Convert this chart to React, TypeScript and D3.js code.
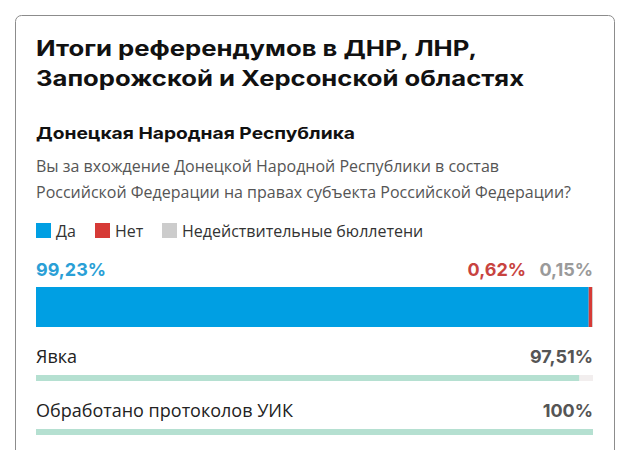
import React from "react";
import * as d3 from "d3";

const titleLines = ["Итоги референдумов в ДНР, ЛНР,", "Запорожской и Херсонской областях"];
const titleWidths = [441, 488];
const regionName = "Донецкая Народная Республика";
const questionLines = [
  "Вы за вхождение Донецкой Народной Республики в состав",
  "Российской Федерации на правах субъекта Российской Федерации?",
];
const categories = ["Да", "Нет", "Недействительные бюллетени"];
const voteValues = [99.23, 0.62, 0.15];
const voteColors = ["#009fe3", "#d63a36", "#cccccc"];
const voteLabelColors = ["#2a9fd6", "#c8433f", "#9a9a9a"];
const progressLabels = ["Явка", "Обработано протоколов УИК"];
const progressValues = [97.51, 100];

const W = 630;
const H = 450;
const HEAD = "Inter, 'Noto Sans', sans-serif";
const BODY = "'Open Sans', 'Noto Sans', sans-serif";

const loc = d3.formatLocale({ decimal: ",", thousands: " ", grouping: [3], currency: ["", ""] });
const fmt2 = loc.format(".2f");
const pct = (v: number) => (Number.isInteger(v) ? `${v}%` : `${fmt2(v)}%`);

export default function App() {
  const x = d3.scaleLinear().domain([0, 100]).range([36, 593]);
  const stacked: { start: number; end: number; i: number }[] = [];
  let acc = 0;
  voteValues.forEach((v, i) => {
    stacked.push({ start: acc, end: acc + v, i });
    acc += v;
  });

  const legendX = [36, 95, 162];
  const progY = [363, 417];

  return (
    <svg width={W} height={H} style={{ position: "absolute", left: 0, top: 0 }}>
      <rect x={0} y={0} width={W} height={H} fill="#fff" />
      <rect x={15.5} y={15.5} width={599} height={460} rx={6} fill="#fff" stroke="#8c8c8c" strokeWidth={1} />
      {titleLines.map((t, i) => (
        <text
          key={i}
          x={36}
          y={56 + i * 30}
          fontFamily={HEAD}
          fontWeight={700}
          fontSize={21}
          fill="#111"
          textLength={titleWidths[i]}
          lengthAdjust="spacingAndGlyphs"
        >
          {t}
        </text>
      ))}
      <text
        x={36}
        y={139}
        fontFamily={HEAD}
        fontWeight={700}
        fontSize={16.5}
        fill="#111"
        textLength={319}
        lengthAdjust="spacingAndGlyphs"
      >
        {regionName}
      </text>
      {questionLines.map((t, i) => (
        <text key={i} x={36} y={172 + i * 26} fontFamily={BODY} fontSize={16} fill="#555">
          {t}
        </text>
      ))}
      {categories.map((c, i) => (
        <g key={c}>
          <rect x={legendX[i]} y={223} width={15} height={15} fill={voteColors[i]} />
          <text x={legendX[i] + 20} y={237} fontFamily={BODY} fontSize={16} fill="#333">
            {c}
          </text>
        </g>
      ))}
      <text x={x(0)} y={276} fontFamily={HEAD} fontWeight={700} fontSize={18} fill={voteLabelColors[0]}>
        {pct(voteValues[0])}
      </text>
      <text x={x(100)} y={276} textAnchor="end" fontFamily={HEAD} fontWeight={700} fontSize={18} fill={voteLabelColors[2]}>
        {pct(voteValues[2])}
      </text>
      <text x={x(100) - 67} y={276} textAnchor="end" fontFamily={HEAD} fontWeight={700} fontSize={18} fill={voteLabelColors[1]}>
        {pct(voteValues[1])}
      </text>
      {stacked.map((s) => (
        <rect key={s.i} x={x(s.start)} y={287} width={Math.max(0, x(s.end) - x(s.start))} height={40} fill={voteColors[s.i]} />
      ))}
      {progressLabels.map((l, i) => (
        <g key={l}>
          <text x={x(0)} y={progY[i]} fontFamily={BODY} fontSize={18} fill="#222">
            {l}
          </text>
          <text x={x(100)} y={progY[i]} textAnchor="end" fontFamily={HEAD} fontWeight={700} fontSize={18} fill="#555">
            {pct(progressValues[i])}
          </text>
          <rect x={x(0)} y={progY[i] + 12} width={x(100) - x(0)} height={6} fill="#f2eeee" />
          <rect x={x(0)} y={progY[i] + 12} width={x(progressValues[i]) - x(0)} height={6} fill="#b5e0d1" />
        </g>
      ))}
    </svg>
  );
}
